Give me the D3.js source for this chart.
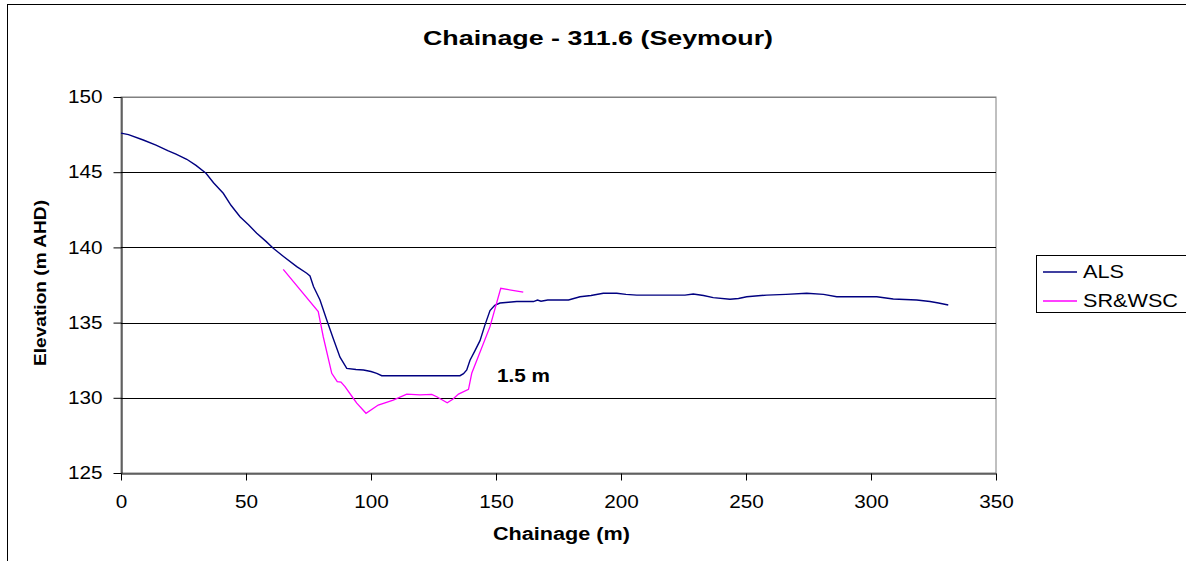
<!DOCTYPE html>
<html><head><meta charset="utf-8">
<script src="https://cdn.jsdelivr.net/npm/d3@7"></script>
<style>body{margin:0;background:#fff}svg{display:block;font-family:Arial,"Liberation Sans",sans-serif}</style>
</head><body><svg id="c" width="1186" height="561"></svg>
<script>
const title = "Chainage - 311.6 (Seymour)";
const xTicks = [0,50,100,150,200,250,300,350];
const yTicks = [125,130,135,140,145,150];
const seriesNames = ["ALS","SR&WSC"];
const alsX = [0,3,8.9,14,18.7,22,26.3,30,34,37,40.9,44,47.6,51,54.3,58,60.9,65,70.3,74.3,75.6,77,78.3,79.6,82.3,85,87.6,90.3,94,97,100,102.3,104.3,110,120,130,135.6,137,138.3,139.6,141.5,143.6,145.5,147.6,149.5,151.6,155,158.3,162,165,166.6,168,170.7,175,179,183.6,188,192.9,198.3,202,206.3,215,225.6,228.9,233,236.9,243.6,247,250.3,258.3,266,274.3,281,286.3,295,302.3,308.9,318.3,323.6,327,330.9];
const alsY = [147.6,147.5,147.14,146.8,146.43,146.2,145.86,145.45,144.93,144.3,143.6,142.8,142.04,141.5,140.94,140.4,139.94,139.4,138.72,138.28,138.1,137.4,136.95,136.5,135.17,133.9,132.7,131.96,131.88,131.85,131.75,131.63,131.47,131.47,131.47,131.47,131.47,131.6,131.85,132.5,133.1,133.8,134.8,135.8,136.15,136.3,136.35,136.4,136.4,136.4,136.5,136.42,136.5,136.5,136.5,136.72,136.8,136.95,136.95,136.88,136.83,136.83,136.83,136.9,136.8,136.66,136.55,136.6,136.72,136.83,136.88,136.95,136.88,136.72,136.72,136.72,136.57,136.5,136.4,136.3,136.17];
const srX = [64.9,78.9,80.9,84.3,86.5,88,89.6,92.9,94.3,98,102.9,108.9,114.3,119.6,124.3,126.3,130.5,132.7,135,139,140.3,147.6,151.9,160.9];
const srY = [138.54,135.73,134.06,131.63,131.07,131.05,130.74,129.97,129.64,128.97,129.52,129.85,130.25,130.19,130.23,130.07,129.67,129.9,130.25,130.56,131.63,134.73,137.28,137.02];
const annotation = "1.5 m";

const svg = d3.select("#c");
const L=121,R=996,T=97,B=473;
const x = d3.scaleLinear().domain([0,350]).range([L,R]);
const y = d3.scaleLinear().domain([125,150]).range([B,T]);

function stretch(sel, factor){
  sel.each(function(){ const w=this.getComputedTextLength();
    d3.select(this).attr("textLength", w*factor).attr("lengthAdjust","spacingAndGlyphs"); });
}
function fit(sel, width){ sel.attr("textLength", width).attr("lengthAdjust","spacingAndGlyphs"); }

// outer border
svg.append("rect").attr("x",7.5).attr("y",4.5).attr("width",1200).attr("height",600).attr("fill","none").attr("stroke","#000");

// plot frame
svg.append("rect").attr("x",L).attr("y",T).attr("width",R-L).attr("height",B-T).attr("fill","none").attr("stroke","#808080");
// gridlines
svg.append("g").selectAll("line").data(yTicks.filter(d=>d>125)).join("line")
  .attr("x1",L).attr("x2",R).attr("y1",d=>Math.round(y(d))+0.5).attr("y2",d=>Math.round(y(d))+0.5)
  .attr("stroke",d=>d===150?"#808080":"#000");

// axes
const xa = svg.append("g").attr("transform",`translate(0,${B+0.5})`)
  .call(d3.axisBottom(x).tickValues(xTicks).tickSize(7).tickPadding(15).tickSizeOuter(0));
const ya = svg.append("g").attr("transform",`translate(${L+0.5},0)`)
  .call(d3.axisLeft(y).tickValues(yTicks).tickSize(8).tickPadding(11).tickSizeOuter(0));
[xa,ya].forEach(a=>{a.selectAll("text").attr("font-size",18).attr("fill","#000").attr("font-family","Arial, Liberation Sans, sans-serif");
  a.selectAll("line,path").attr("stroke","#000");
  stretch(a.selectAll("text"),1.15);});

const line = d3.line().x(d=>x(d[0])).y(d=>y(d[1]));
svg.append("path").datum(alsX.map((v,i)=>[v,alsY[i]])).attr("d",line).attr("fill","none").attr("stroke","#000080").attr("stroke-width",1.4);
svg.append("path").datum(srX.map((v,i)=>[v,srY[i]])).attr("d",line).attr("fill","none").attr("stroke","#ff00ff").attr("stroke-width",1.3);

// texts
svg.append("text").attr("x",598).attr("y",45).attr("text-anchor","middle").attr("font-size",21).attr("font-weight","bold").text(title).call(fit,350);
svg.append("text").attr("x",561.5).attr("y",540).attr("text-anchor","middle").attr("font-size",18).attr("font-weight","bold").text("Chainage (m)").call(fit,137);
svg.append("text").attr("transform","translate(46,283) rotate(-90)").attr("text-anchor","middle").attr("font-size",17).attr("font-weight","bold").text("Elevation (m AHD)").call(fit,166);
svg.append("text").attr("x",497).attr("y",381.5).attr("font-size",18).attr("font-weight","bold").text(annotation).call(fit,53);

// legend
const lg = svg.append("g");
lg.append("rect").attr("x",1036.5).attr("y",255.5).attr("width",150).attr("height",57).attr("fill","#fff").attr("stroke","#000");
const colors=["#000080","#ff00ff"];
const legW=[41,95];
seriesNames.forEach((n,i)=>{
  const yy = 272+i*29;
  lg.append("line").attr("x1",1043).attr("x2",1077).attr("y1",yy).attr("y2",yy).attr("stroke",colors[i]).attr("stroke-width",1.3);
  lg.append("text").attr("x",1083).attr("y",yy+5.5).attr("font-size",18).text(n).call(fit,legW[i]);
});
</script></body></html>
